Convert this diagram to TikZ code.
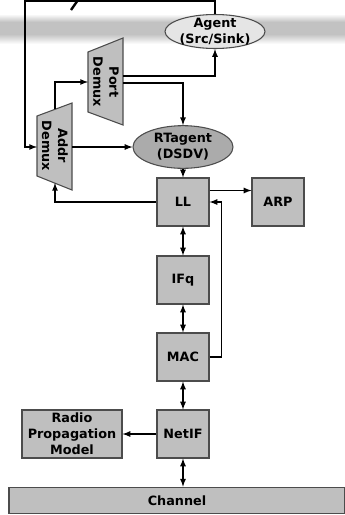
\documentclass[tikz,border=0pt]{standalone}
\usepackage{fontspec}
\setmainfont{DejaVu Sans}
\usetikzlibrary{shapes}
\usetikzlibrary{calc}

\tikzset{
  txt/.style={font=\bfseries\fontsize{9.6}{12}\selectfont, align=center, inner sep=0pt},
  blk/.style={txt, draw=black!70, fill=black!25, line width=0.8pt, minimum width=39pt, minimum height=36pt},
  demux/.style={draw=black!70, fill=black!25, line width=0.8pt},
  link/.style={line width=1pt, -latex},
  dlink/.style={line width=1pt, latex-latex},
}

\begin{document}
\begin{tikzpicture}[x=0.75pt,y=0.75pt,yscale=-1,xscale=1]
\useasboundingbox (0,0) rectangle (345,515);

%Shape: grey band
\shade[top color=white, bottom color=black!24] (0,14) rectangle (345,22);
\fill[black!24] (0,22) rectangle (345,34);
\shade[top color=black!24, bottom color=white] (0,34) rectangle (345,44);
%Shape: title fragment
\draw[line width=1.8pt] (78,0) -- (71,10);

%Shape: Ellipse
\node[ellipse, draw=black!70, fill=black!10, line width=0.8pt, minimum width=75pt, minimum height=25.5pt, inner sep=0pt,
  label={[txt]center:Agent\\(Src/Sink)}] (agent) at (215,31.5) {};
%Shape: Ellipse
\node[ellipse, draw=black!70, fill=black!33, line width=0.8pt, minimum width=75pt, minimum height=32pt, inner sep=0pt,
  label={[txt]center:RTagent\\(DSDV)}] (rt) at (183,147) {};

%Shape: Trapezoid
\draw[demux] (88,52) -- (123,38) -- (123,125) -- (88,112) -- cycle;
\node[txt, rotate=-90] (port) at (106,82) {Port\\Demux};
%Shape: Trapezoid
\draw[demux] (37,116) -- (72,103) -- (72,190) -- (37,176) -- cycle;
\node[txt, rotate=-90] (addr) at (55,146) {Addr\\Demux};

\coordinate (rail) at (25,1);
\coordinate (addrW) at (37,147);
\coordinate (addrE) at (72,147);
\coordinate (addrN) at (55,109);
\coordinate (addrS) at (55,183);
\coordinate (portW) at (88,82);
\coordinate (portE) at (123,76);
\coordinate (portF) at (123,83);

%Shape: Rectangle
\node[blk] (ll) at (183,202) {LL};
\node[blk] (arp) at (278,202) {ARP};
\node[blk] (ifq) at (183,280) {IFq};
\node[blk] (mac) at (183,357) {MAC};
\node[blk] (netif) at (183,434) {NetIF};
\node[blk, minimum width=75pt] (rpm) at (72,434) {Radio\\Propagation\\Model};
\node[blk, minimum width=252pt, minimum height=20pt] (chan) at (177,500.5) {Channel};

%Straight Lines
\draw[link] (agent.north) |- (rail) |- (addrW);
\draw[link] (addrN) |- (portW);
\draw[link] (portE) -| (agent.south);
\draw[link] (portF) -| (rt.north);
\draw[link] (addrE) -- (rt.west);
\draw[link] (rt.south) -- (ll.north);
\draw[link] ($(ll.east)+(0,-11.5)$) -- ($(arp.west)+(0,-11.5)$);
\draw[link] (ll.west) -| (addrS);
\draw[link] (mac.east) -- ++(12,0) |- (ll.east);
\draw[dlink] (ll) -- (ifq);
\draw[dlink] (ifq) -- (mac);
\draw[dlink] (mac) -- (netif);
\draw[dlink] (netif.south) -- (netif.south |- chan.north);
\draw[link] (netif) -- (rpm);

\end{tikzpicture}
\end{document}
